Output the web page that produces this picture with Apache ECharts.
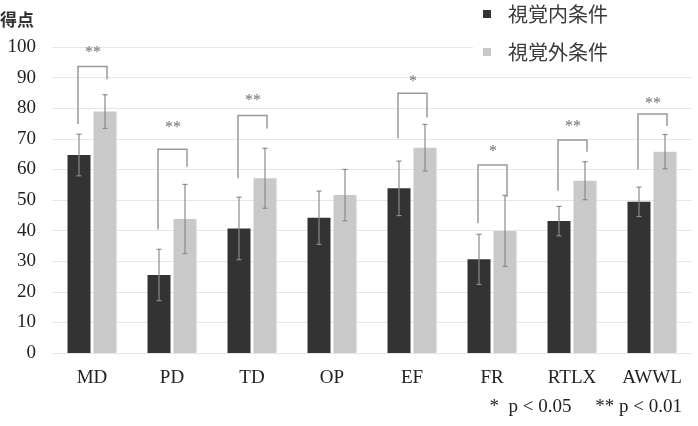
<!DOCTYPE html>
<html>
<head>
<meta charset="utf-8">
<script src="https://cdn.jsdelivr.net/npm/echarts@6/dist/echarts.min.js"></script>
<style>
  html, body { margin: 0; padding: 0; background: #fff; }
  #main { width: 698px; height: 426px; }
</style>
</head>
<body>
<div id="main"></div>
<script>
// 評価項目
var categories = ['MD', 'PD', 'TD', 'OP', 'EF', 'FR', 'RTLX', 'AWWL'];
var seriesNames = ['視覚内条件', '視覚外条件'];

// 平均値
var insideMean = [64.7, 25.5, 40.7, 44.2, 53.8, 30.6, 43.1, 49.4];
var outsideMean = [78.9, 43.8, 57.1, 51.6, 67.1, 39.9, 56.3, 65.8];
// 標準誤差
var insideErr = [6.8, 8.4, 10.2, 8.7, 8.9, 8.2, 4.8, 4.8];
var outsideErr = [5.5, 11.3, 9.8, 8.4, 7.6, 11.6, 6.2, 5.6];

// 有意差の括弧: 上端, 左脚の下端, 右脚の下端, 記号とその高さ
var bracketTop = [93.6, 66.6, 77.6, null, 84.9, 61.4, 69.6, 78.1];
var bracketLeftEnd = [74.8, 40.4, 57.1, null, 70.2, 42.4, 53.0, 60.0];
var bracketRightEnd = [89.5, 60.9, 73.4, null, 77.0, 51.1, 65.8, 74.2];
var bracketMark = ['**', '**', '**', '', '*', '*', '**', '**'];
var markValue = [98.1, 73.6, 82.4, null, 88.7, 65.8, 73.8, 81.6];

var yTicks = [0, 100, 10]; // min, max, interval

var BAR_W = 23;
var BAR_GAP = 3;
var OFFSET = (BAR_W + BAR_GAP) / 2;

var chart = echarts.init(document.getElementById('main'), null, { renderer: 'canvas' });

function errorItem(means, errs, side) {
  return function (params, api) {
    var i = api.value(0);
    var hi = api.coord([i, means[i] + errs[i]]);
    var lo = api.coord([i, means[i] - errs[i]]);
    var x = hi[0] + side * OFFSET;
    var style = { stroke: '#8a8a8a', lineWidth: 1.2 };
    return {
      type: 'group',
      children: [
        { type: 'line', shape: { x1: x, y1: hi[1], x2: x, y2: lo[1] }, style: style },
        { type: 'line', shape: { x1: x - 2.5, y1: hi[1], x2: x + 2.5, y2: hi[1] }, style: style },
        { type: 'line', shape: { x1: x - 2.5, y1: lo[1], x2: x + 2.5, y2: lo[1] }, style: style }
      ]
    };
  };
}

function bracketItem(params, api) {
  var i = api.value(0);
  if (bracketTop[i] == null) return null;
  var top = api.coord([i, bracketTop[i]]);
  var lEnd = api.coord([i, bracketLeftEnd[i]]);
  var rEnd = api.coord([i, bracketRightEnd[i]]);
  var mk = api.coord([i, markValue[i]]);
  var xl = top[0] - OFFSET - 1;
  var xr = top[0] + OFFSET + 2;
  var style = { stroke: '#999999', lineWidth: 1.5, fill: null };
  return {
    type: 'group',
    children: [
      { type: 'polyline', shape: { points: [[xl, lEnd[1]], [xl, top[1]], [xr, top[1]], [xr, rEnd[1]]] }, style: style },
      { type: 'text', style: { x: top[0] + 1, y: mk[1], text: bracketMark[i], fill: '#707070', font: '16px "Liberation Serif"', align: 'center', verticalAlign: 'middle' } }
    ]
  };
}

var idx = categories.map(function (c, i) { return [i]; });

var option = {
  backgroundColor: '#ffffff',
  color: ['#333333', '#c9c9c9'],
  animation: false,
  grid: { left: 52, right: 6, top: 47, bottom: 73 },
  legend: {
    data: seriesNames,
    orient: 'vertical',
    left: 473,
    top: 0,
    itemWidth: 8,
    itemHeight: 8,
    itemGap: 18,
    padding: [4, 100, 8, 10],
    backgroundColor: '#ffffff',
    icon: 'rect',
    textStyle: { fontFamily: 'Noto Sans CJK JP', fontSize: 20, color: '#3a3a3a', padding: [0, 0, 0, 12] }
  },
  xAxis: {
    type: 'category',
    data: categories,
    axisLine: { show: false },
    axisTick: { show: false },
    axisLabel: { fontFamily: 'Liberation Serif', fontSize: 19, color: '#222', margin: 16 }
  },
  yAxis: {
    type: 'value',
    min: yTicks[0],
    max: yTicks[1],
    interval: yTicks[2],
    axisLine: { show: false },
    axisTick: { show: false },
    axisLabel: { fontFamily: 'Liberation Serif', fontSize: 19, color: '#222', margin: 16 },
    splitLine: { lineStyle: { color: '#e6e6e6', width: 1 } }
  },
  graphic: [
    { type: 'text', left: 0, top: 11, style: { text: '得点', font: 'bold 17px "Noto Sans CJK JP"', fill: '#333' } },
    { type: 'text', right: 16, top: 398, style: { text: '*  p < 0.05     ** p < 0.01', font: '19px "Liberation Serif"', fill: '#222' } }
  ],
  series: [
    { name: seriesNames[0], type: 'bar', data: insideMean, barWidth: BAR_W, barGap: (BAR_GAP / BAR_W * 100) + '%' },
    { name: seriesNames[1], type: 'bar', data: outsideMean, barWidth: BAR_W },
    { type: 'custom', data: idx, renderItem: errorItem(insideMean, insideErr, -1), z: 3 },
    { type: 'custom', data: idx, renderItem: errorItem(outsideMean, outsideErr, 1), z: 3 },
    { type: 'custom', data: idx, renderItem: bracketItem, z: 3 }
  ]
};

chart.setOption(option);
</script>
</body>
</html>
